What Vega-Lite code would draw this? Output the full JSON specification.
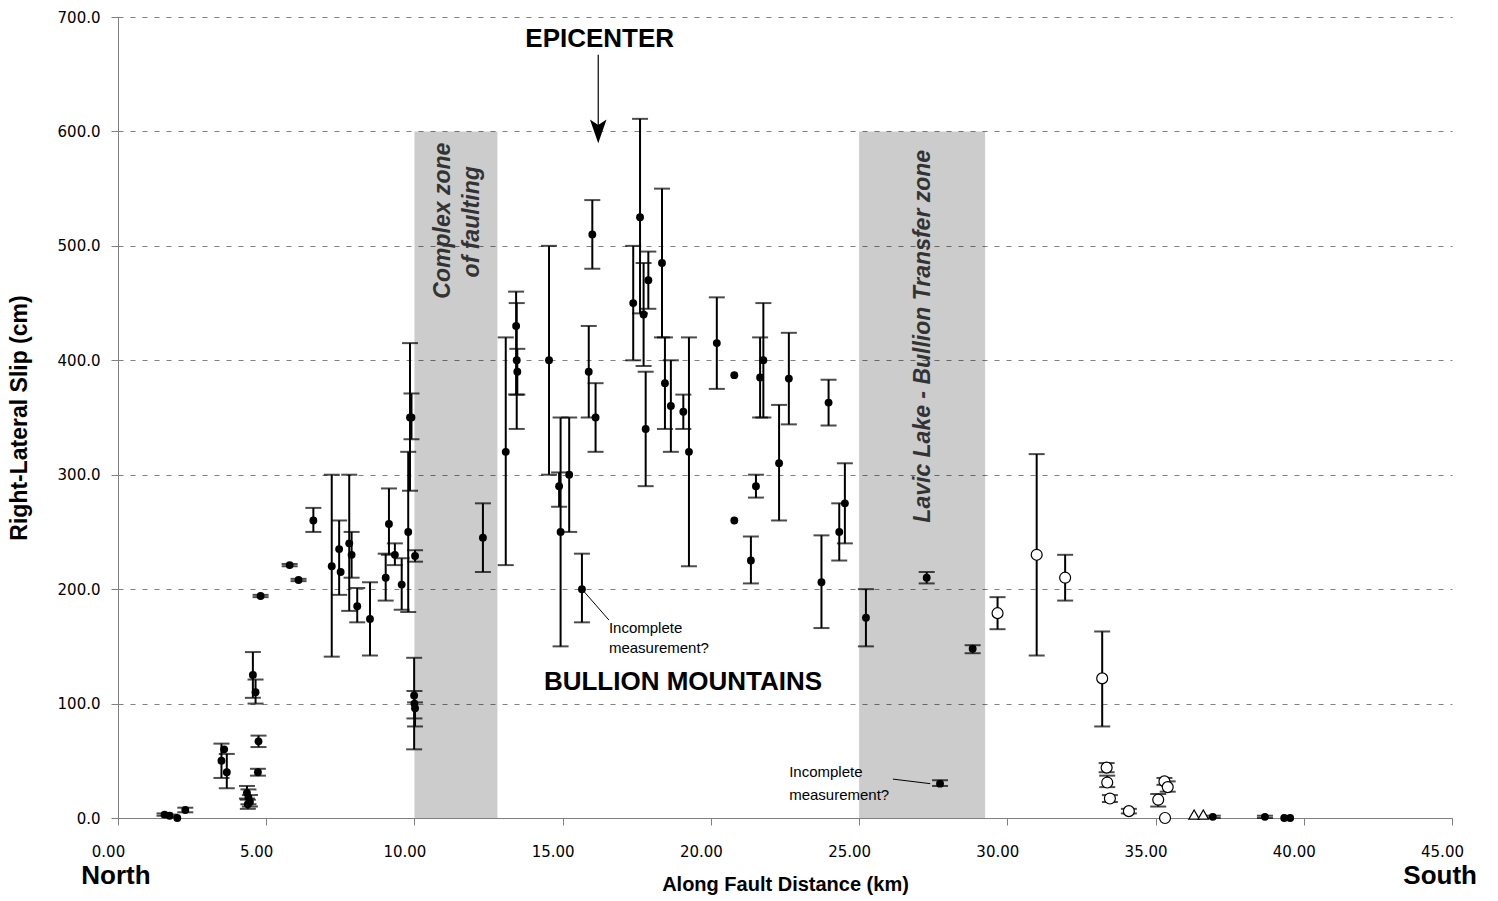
{
  "$schema": "https://vega.github.io/schema/vega-lite/v6.json",
  "width": 1334,
  "height": 801,
  "autosize": {"type": "none"},
  "padding": {"left": 118, "top": 17, "right": 46, "bottom": 83},
  "background": "white",
  "config": {
    "view": {"stroke": null},
    "font": "Liberation Sans",
    "axisX": {
      "grid": false,
      "domainColor": "#808080",
      "tickColor": "#808080",
      "tickSize": 7,
      "labelFont": "DejaVu Sans",
      "labelFontSize": 15,
      "labelColor": "#000000",
      "labelPadding": 19,
      "labelFlush": false,
      "labelOverlap": false,
      "titleFont": "Liberation Sans",
      "titleFontSize": 20,
      "titleFontWeight": "bold",
      "titleColor": "#000000",
      "titlePadding": 15
    },
    "axisY": {
      "grid": true,
      "gridColor": "#808080",
      "gridDash": [5, 7],
      "gridWidth": 1,
      "domainColor": "#808080",
      "tickColor": "#808080",
      "tickSize": 7,
      "labelFont": "DejaVu Sans",
      "labelFontSize": 15,
      "labelColor": "#000000",
      "labelPadding": 11,
      "labelOverlap": false,
      "titleFont": "Liberation Sans",
      "titleFontSize": 23,
      "titleFontWeight": "bold",
      "titleColor": "#000000",
      "titlePadding": 26
    }
  },
  "datasets": {
    "zones": [
      {"start": 10.0, "end": 12.8, "bottom": 0, "top": 600},
      {"start": 25.0, "end": 29.25, "bottom": 0, "top": 600}
    ],
    "slip": [
      {"km": 1.57, "slip": 3, "lo": 2, "hi": 4, "t": "filled"},
      {"km": 1.74, "slip": 2, "lo": 1, "hi": 3, "t": "filled"},
      {"km": 2.0, "slip": 0, "lo": null, "hi": null, "t": "filled"},
      {"km": 2.27, "slip": 7, "lo": 5, "hi": 9, "t": "filled"},
      {"km": 3.49, "slip": 50, "lo": 35, "hi": 65, "t": "filled"},
      {"km": 3.58, "slip": 60, "lo": null, "hi": null, "t": "filled"},
      {"km": 3.67, "slip": 40, "lo": 26, "hi": 56, "t": "filled"},
      {"km": 4.35, "slip": 22, "lo": 17, "hi": 28, "t": "filled"},
      {"km": 4.4, "slip": 18, "lo": 12, "hi": 25, "t": "filled"},
      {"km": 4.45, "slip": 14, "lo": 10, "hi": 20, "t": "filled"},
      {"km": 4.38, "slip": 12, "lo": 8, "hi": 16, "t": "filled"},
      {"km": 4.55, "slip": 125, "lo": 105, "hi": 145, "t": "filled"},
      {"km": 4.64, "slip": 110, "lo": 100, "hi": 121, "t": "filled"},
      {"km": 4.74, "slip": 67, "lo": 62, "hi": 72, "t": "filled"},
      {"km": 4.72, "slip": 40, "lo": 37, "hi": 43, "t": "filled"},
      {"km": 4.81, "slip": 194, "lo": 193, "hi": 195, "t": "filled"},
      {"km": 5.79, "slip": 221, "lo": 220, "hi": 222, "t": "filled"},
      {"km": 6.09, "slip": 208, "lo": 207, "hi": 209, "t": "filled"},
      {"km": 6.59, "slip": 260, "lo": 250, "hi": 271, "t": "filled"},
      {"km": 7.21, "slip": 220, "lo": 141, "hi": 300, "t": "filled"},
      {"km": 7.46, "slip": 235, "lo": 195, "hi": 260, "t": "filled"},
      {"km": 7.51, "slip": 215, "lo": null, "hi": null, "t": "filled"},
      {"km": 7.8, "slip": 240, "lo": 181, "hi": 300, "t": "filled"},
      {"km": 7.88, "slip": 230, "lo": 210, "hi": 250, "t": "filled"},
      {"km": 8.07, "slip": 185, "lo": 171, "hi": 201, "t": "filled"},
      {"km": 8.5, "slip": 174, "lo": 142, "hi": 206, "t": "filled"},
      {"km": 9.03, "slip": 210, "lo": 190, "hi": 231, "t": "filled"},
      {"km": 9.14, "slip": 257, "lo": 230, "hi": 288, "t": "filled"},
      {"km": 9.34, "slip": 230, "lo": 221, "hi": 240, "t": "filled"},
      {"km": 9.57, "slip": 204, "lo": 182, "hi": 227, "t": "filled"},
      {"km": 9.79, "slip": 250, "lo": 180, "hi": 320, "t": "filled"},
      {"km": 9.85, "slip": 350, "lo": 286, "hi": 415, "t": "filled"},
      {"km": 9.9, "slip": 350, "lo": 331, "hi": 371, "t": "filled"},
      {"km": 10.02, "slip": 229, "lo": 224, "hi": 234, "t": "filled"},
      {"km": 9.99, "slip": 107, "lo": 60, "hi": 140, "t": "filled"},
      {"km": 10.0, "slip": 100, "lo": 87, "hi": 111, "t": "filled"},
      {"km": 10.02, "slip": 96, "lo": 80, "hi": 101, "t": "filled"},
      {"km": 12.31, "slip": 245, "lo": 215, "hi": 275, "t": "filled"},
      {"km": 13.08, "slip": 320, "lo": 221, "hi": 420, "t": "filled"},
      {"km": 13.43, "slip": 430, "lo": 370, "hi": 460, "t": "filled"},
      {"km": 13.45, "slip": 400, "lo": 340, "hi": 450, "t": "filled"},
      {"km": 13.47, "slip": 390, "lo": 370, "hi": 410, "t": "filled"},
      {"km": 14.54, "slip": 400, "lo": 300, "hi": 500, "t": "filled"},
      {"km": 14.88, "slip": 290, "lo": 272, "hi": 302, "t": "filled"},
      {"km": 14.93, "slip": 250, "lo": 150, "hi": 350, "t": "filled"},
      {"km": 15.22, "slip": 300, "lo": 250, "hi": 350, "t": "filled"},
      {"km": 15.65, "slip": 200, "lo": 171, "hi": 231, "t": "filled"},
      {"km": 15.88, "slip": 390, "lo": 350, "hi": 430, "t": "filled"},
      {"km": 16.0, "slip": 510, "lo": 480, "hi": 540, "t": "filled"},
      {"km": 16.11, "slip": 350, "lo": 320, "hi": 380, "t": "filled"},
      {"km": 17.38, "slip": 450, "lo": 400, "hi": 500, "t": "filled"},
      {"km": 17.61, "slip": 525, "lo": 441, "hi": 611, "t": "filled"},
      {"km": 17.73, "slip": 440, "lo": 395, "hi": 485, "t": "filled"},
      {"km": 17.8, "slip": 340, "lo": 290, "hi": 390, "t": "filled"},
      {"km": 17.89, "slip": 470, "lo": 445, "hi": 495, "t": "filled"},
      {"km": 18.35, "slip": 485, "lo": 420, "hi": 550, "t": "filled"},
      {"km": 18.45, "slip": 380, "lo": 340, "hi": 420, "t": "filled"},
      {"km": 18.65, "slip": 360, "lo": 320, "hi": 400, "t": "filled"},
      {"km": 19.07, "slip": 355, "lo": 340, "hi": 370, "t": "filled"},
      {"km": 19.26, "slip": 320, "lo": 220, "hi": 420, "t": "filled"},
      {"km": 20.2, "slip": 415, "lo": 375, "hi": 455, "t": "filled"},
      {"km": 20.79, "slip": 387, "lo": null, "hi": null, "t": "filled"},
      {"km": 20.79, "slip": 260, "lo": null, "hi": null, "t": "filled"},
      {"km": 21.35, "slip": 225, "lo": 205, "hi": 246, "t": "filled"},
      {"km": 21.52, "slip": 290, "lo": 280, "hi": 300, "t": "filled"},
      {"km": 21.66, "slip": 385, "lo": 350, "hi": 420, "t": "filled"},
      {"km": 21.77, "slip": 400, "lo": 350, "hi": 450, "t": "filled"},
      {"km": 22.3, "slip": 310, "lo": 260, "hi": 361, "t": "filled"},
      {"km": 22.63, "slip": 384, "lo": 344, "hi": 424, "t": "filled"},
      {"km": 23.73, "slip": 206, "lo": 166, "hi": 247, "t": "filled"},
      {"km": 23.97, "slip": 363, "lo": 343, "hi": 383, "t": "filled"},
      {"km": 24.33, "slip": 250, "lo": 225, "hi": 275, "t": "filled"},
      {"km": 24.52, "slip": 275, "lo": 240, "hi": 310, "t": "filled"},
      {"km": 25.23, "slip": 175, "lo": 150, "hi": 200, "t": "filled"},
      {"km": 27.28, "slip": 210, "lo": 205, "hi": 215, "t": "filled"},
      {"km": 27.73, "slip": 30, "lo": 28, "hi": 33, "t": "filled"},
      {"km": 28.83, "slip": 148, "lo": 144, "hi": 151, "t": "filled"},
      {"km": 36.93, "slip": 1, "lo": 0, "hi": 2, "t": "filled"},
      {"km": 38.69, "slip": 1, "lo": 0, "hi": 2, "t": "filled"},
      {"km": 39.34, "slip": 0, "lo": null, "hi": null, "t": "filled"},
      {"km": 39.54, "slip": 0, "lo": null, "hi": null, "t": "filled"},
      {"km": 29.67, "slip": 179, "lo": 165, "hi": 193, "t": "open"},
      {"km": 30.99, "slip": 230, "lo": 142, "hi": 318, "t": "open"},
      {"km": 31.95, "slip": 210, "lo": 190, "hi": 230, "t": "open"},
      {"km": 33.2, "slip": 122, "lo": 80, "hi": 163, "t": "open"},
      {"km": 33.35, "slip": 44, "lo": 40, "hi": 48, "t": "open"},
      {"km": 33.37, "slip": 31, "lo": 27, "hi": 37, "t": "open"},
      {"km": 33.46, "slip": 17, "lo": 14, "hi": 20, "t": "open"},
      {"km": 34.1, "slip": 6, "lo": 4, "hi": 8, "t": "open"},
      {"km": 35.09, "slip": 16, "lo": 10, "hi": 21, "t": "open"},
      {"km": 35.3, "slip": 32, "lo": 29, "hi": 35, "t": "open"},
      {"km": 35.41, "slip": 27, "lo": 23, "hi": 32, "t": "open"},
      {"km": 35.32, "slip": 0, "lo": null, "hi": null, "t": "open"},
      {"km": 36.3, "slip": 3, "lo": null, "hi": null, "t": "tri"},
      {"km": 36.61, "slip": 3, "lo": null, "hi": null, "t": "tri"}
    ],
    "big": [
      {"text": "EPICENTER", "km": 16.25, "cm": 681},
      {"text": "BULLION MOUNTAINS", "km": 19.06, "cm": 119}
    ],
    "compass": [
      {"text": "North", "km": -0.07, "cm": -51},
      {"text": "South", "km": 44.6, "cm": -51}
    ],
    "zonetext": [
      {"text": "Complex zone", "km": 10.96, "cm": 522},
      {"text": "of faulting", "km": 11.94, "cm": 521},
      {"text": "Lavic Lake - Bullion  Transfer zone", "km": 27.16, "cm": 421}
    ],
    "notes": [
      {"text": "Incomplete", "km": 16.56, "cm": 166},
      {"text": "measurement?", "km": 16.56, "cm": 149},
      {"text": "Incomplete", "km": 22.64, "cm": 40},
      {"text": "measurement?", "km": 22.64, "cm": 20}
    ],
    "leaders": [
      {"km": 15.65, "cm": 200, "km2": 16.56, "cm2": 173},
      {"km": 26.14, "cm": 34, "km2": 27.4, "cm2": 30}
    ],
    "arrow": [
      {"km": 16.2, "cm": 667, "cm2": 600}
    ]
  },
  "layer": [
    {
      "data": {"name": "zones"},
      "mark": {"type": "rect", "fill": "#000000", "fillOpacity": 0.2},
      "encoding": {
        "x": {
          "field": "start", "type": "quantitative",
          "title": "Along Fault Distance (km)",
          "scale": {"domain": [0, 45], "nice": false, "zero": false},
          "axis": {"values": [0, 5, 10, 15, 20, 25, 30, 35, 40, 45], "format": ".2f", "labelOffset": -10}
        },
        "x2": {"field": "end"},
        "y": {
          "field": "bottom", "type": "quantitative",
          "title": "Right-Lateral Slip (cm)",
          "scale": {"domain": [0, 700], "nice": false, "zero": true},
          "axis": {"values": [0, 100, 200, 300, 400, 500, 600, 700], "format": ".1f"}
        },
        "y2": {"field": "top"}
      }
    },
    {
      "data": {"name": "slip"},
      "transform": [{"filter": "isValid(datum.lo)"}],
      "mark": {"type": "rule", "color": "#000000", "strokeWidth": 2},
      "encoding": {
        "x": {"field": "km", "type": "quantitative", "title": "Along Fault Distance (km)"},
        "y": {"field": "lo", "type": "quantitative", "title": "Right-Lateral Slip (cm)"},
        "y2": {"field": "hi"}
      }
    },
    {
      "data": {"name": "slip"},
      "transform": [{"filter": "isValid(datum.lo)"}],
      "mark": {"type": "tick", "orient": "horizontal", "color": "#000000", "size": 16, "thickness": 2},
      "encoding": {
        "x": {"field": "km", "type": "quantitative", "title": "Along Fault Distance (km)"},
        "y": {"field": "lo", "type": "quantitative", "title": "Right-Lateral Slip (cm)"}
      }
    },
    {
      "data": {"name": "slip"},
      "transform": [{"filter": "isValid(datum.hi)"}],
      "mark": {"type": "tick", "orient": "horizontal", "color": "#000000", "size": 16, "thickness": 2},
      "encoding": {
        "x": {"field": "km", "type": "quantitative", "title": "Along Fault Distance (km)"},
        "y": {"field": "hi", "type": "quantitative", "title": "Right-Lateral Slip (cm)"}
      }
    },
    {
      "data": {"name": "slip"},
      "transform": [{"filter": "datum.t === 'filled'"}],
      "mark": {"type": "point", "shape": "circle", "filled": true, "color": "#000000", "size": 62, "opacity": 1},
      "encoding": {
        "x": {"field": "km", "type": "quantitative", "title": "Along Fault Distance (km)"},
        "y": {"field": "slip", "type": "quantitative", "title": "Right-Lateral Slip (cm)"}
      }
    },
    {
      "data": {"name": "slip"},
      "transform": [{"filter": "datum.t === 'open'"}],
      "mark": {"type": "point", "shape": "circle", "filled": true, "fill": "#ffffff", "stroke": "#000000", "strokeWidth": 1.2, "size": 120, "opacity": 1},
      "encoding": {
        "x": {"field": "km", "type": "quantitative", "title": "Along Fault Distance (km)"},
        "y": {"field": "slip", "type": "quantitative", "title": "Right-Lateral Slip (cm)"}
      }
    },
    {
      "data": {"name": "slip"},
      "transform": [{"filter": "datum.t === 'tri'"}],
      "mark": {"type": "point", "shape": "triangle-up", "filled": true, "fill": "#ffffff", "stroke": "#000000", "strokeWidth": 1.2, "size": 110, "opacity": 1},
      "encoding": {
        "x": {"field": "km", "type": "quantitative", "title": "Along Fault Distance (km)"},
        "y": {"field": "slip", "type": "quantitative", "title": "Right-Lateral Slip (cm)"}
      }
    },
    {
      "data": {"name": "leaders"},
      "mark": {"type": "rule", "color": "#000000", "strokeWidth": 1},
      "encoding": {
        "x": {"field": "km", "type": "quantitative", "title": "Along Fault Distance (km)"},
        "y": {"field": "cm", "type": "quantitative", "title": "Right-Lateral Slip (cm)"},
        "x2": {"field": "km2"},
        "y2": {"field": "cm2"}
      }
    },
    {
      "data": {"name": "arrow"},
      "mark": {"type": "rule", "color": "#000000", "strokeWidth": 1.2},
      "encoding": {
        "x": {"field": "km", "type": "quantitative", "title": "Along Fault Distance (km)"},
        "y": {"field": "cm", "type": "quantitative", "title": "Right-Lateral Slip (cm)"},
        "y2": {"field": "cm2"}
      }
    },
    {
      "data": {"name": "arrow"},
      "mark": {"type": "point", "shape": "M -0.7,-1 L 0,1 L 0.7,-1 L 0,-0.55 Z", "filled": true, "color": "#000000", "size": 560, "opacity": 1},
      "encoding": {
        "x": {"field": "km", "type": "quantitative", "title": "Along Fault Distance (km)"},
        "y": {"field": "cm2", "type": "quantitative", "title": "Right-Lateral Slip (cm)"}
      }
    },
    {
      "data": {"name": "zonetext"},
      "mark": {"type": "text", "angle": 270, "font": "Liberation Sans", "fontSize": 23, "fontWeight": "bold", "fontStyle": "italic", "color": "#333333", "align": "center", "baseline": "middle"},
      "encoding": {
        "x": {"field": "km", "type": "quantitative", "title": "Along Fault Distance (km)"},
        "y": {"field": "cm", "type": "quantitative", "title": "Right-Lateral Slip (cm)"},
        "text": {"field": "text"}
      }
    },
    {
      "data": {"name": "big"},
      "mark": {"type": "text", "font": "Liberation Sans", "fontSize": 26, "fontWeight": "bold", "color": "#000000", "align": "center", "baseline": "middle"},
      "encoding": {
        "x": {"field": "km", "type": "quantitative", "title": "Along Fault Distance (km)"},
        "y": {"field": "cm", "type": "quantitative", "title": "Right-Lateral Slip (cm)"},
        "text": {"field": "text"}
      }
    },
    {
      "data": {"name": "compass"},
      "mark": {"type": "text", "font": "Liberation Sans", "fontSize": 26, "fontWeight": "bold", "color": "#000000", "align": "center", "baseline": "middle"},
      "encoding": {
        "x": {"field": "km", "type": "quantitative", "title": "Along Fault Distance (km)"},
        "y": {"field": "cm", "type": "quantitative", "title": "Right-Lateral Slip (cm)"},
        "text": {"field": "text"}
      }
    },
    {
      "data": {"name": "notes"},
      "mark": {"type": "text", "font": "Liberation Sans", "fontSize": 15, "color": "#000000", "align": "left", "baseline": "middle"},
      "encoding": {
        "x": {"field": "km", "type": "quantitative", "title": "Along Fault Distance (km)"},
        "y": {"field": "cm", "type": "quantitative", "title": "Right-Lateral Slip (cm)"},
        "text": {"field": "text"}
      }
    }
  ]
}
